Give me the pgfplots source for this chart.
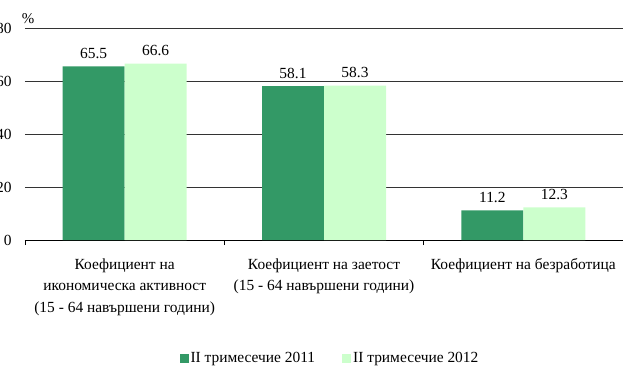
\documentclass[border=0pt]{standalone}
\usepackage{pgfplots}
\pgfplotsset{compat=1.18}
\usepackage{fontspec}
\setmainfont{Liberation Serif}
\definecolor{dg}{HTML}{339966}
\definecolor{lg}{HTML}{CCFFCC}
\begin{document}
\begin{tikzpicture}
\fontsize{15.5}{22}\selectfont
\begin{axis}[
  scale only axis, width=598bp, height=212bp,
  ybar=0pt, bar width=62bp,
  xmin=-0.5, xmax=2.5, ymin=0, ymax=80,
  ytick={0,20,40,60,80},
  xtick={0,1,2},
  xticklabels={{Коефициент на\\икономическа активност\\(15 - 64 навършени години)},{Коефициент на заетост\\(15 - 64 навършени години)},{Коефициент на безработица}},
  x tick label style={align=center, font=\fontsize{15.5}{22}\selectfont, yshift=-13bp},
  y tick label style={font=\fontsize{15.5}{18}\selectfont, xshift=-8bp},
  /pgf/number format/assume math mode=true,
  minor xtick={-0.5,0.5,1.5,2.5},
  major tick length=0pt,
  minor tick length=5bp,
  tick align=outside,
  tick style={black, line width=0.7pt},
  axis x line*=bottom, axis y line*=left,
  y axis line style={draw=none},
  x axis line style={black, line width=0.7pt, -},
  ymajorgrids, xmajorgrids=false, xminorgrids=false,
  major grid style={black!80, line width=0.6pt},
  nodes near coords,
  every node near coord/.append style={font=\fontsize{15.5}{18}\selectfont, yshift=2bp, black},
  nodes near coords style={/pgf/number format/.cd, fixed, fixed zerofill, precision=1, assume math mode=true},
  legend columns=2,
  legend style={draw=none, at={(0.51,-0.56)}, anchor=center, font=\fontsize{15.5}{18}\selectfont,
    /tikz/every even column/.append style={column sep=25bp}},
  legend image code/.code={\fill[#1] (0bp,-4bp) rectangle (9bp,5bp);},
]
\addplot[fill=dg, draw=none] coordinates {(0,65.5) (1,58.1) (2,11.2)};
\addplot[fill=lg, draw=none] coordinates {(0,66.6) (1,58.3) (2,12.3)};
\legend{II тримесечие 2011, II тримесечие 2012}
\end{axis}
\node[anchor=center, font=\fontsize{15}{18}\selectfont] at ([xshift=3bp,yshift=9bp]current axis.north west) {\%};
\pgfresetboundingbox
\path ([xshift=-25bp,yshift=-140bp]current axis.south west) rectangle ([yshift=28bp]current axis.north east);
\end{tikzpicture}
\end{document}
